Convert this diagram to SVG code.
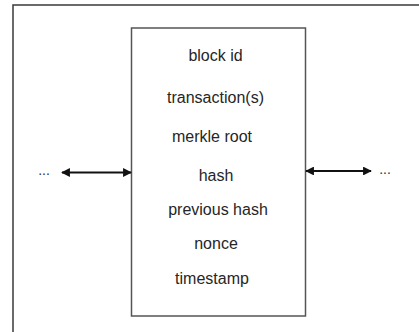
<svg xmlns="http://www.w3.org/2000/svg" width="419" height="332" viewBox="0 0 419 332">
  <style>
    .frame { fill: none; stroke: #3a3a3a; stroke-width: 1.5; }
    .box { fill: #ffffff; stroke: #555555; stroke-width: 1.5; }
    .label { font-family: "Liberation Sans", Arial, sans-serif; font-size: 16px; fill: #262626; text-anchor: middle; }
    .dots { font-family: "Liberation Sans", Arial, sans-serif; font-size: 14px; fill: #333333; text-anchor: middle; }
    .link { stroke: #111111; stroke-width: 2.2; fill: none; marker-start: url(#head); marker-end: url(#head); }
  </style>
  <defs>
    <marker id="head" viewBox="0 0 10 10" refX="9" refY="5" markerWidth="4" markerHeight="4" orient="auto-start-reverse" markerUnits="strokeWidth">
      <path d="M0,0 L10,5 L0,10 z" fill="#111111"/>
    </marker>
  </defs>

  <rect width="419" height="332" fill="#ffffff"/>

  <!-- page frame: top and left edges -->
  <path class="frame" d="M13,332 L13,5 L419,5"/>

  <g id="block">
    <rect class="box" x="131.5" y="28" width="174" height="288"/>
    <text class="label" x="215.5" y="61">block id</text>
    <text class="label" x="215.5" y="103">transaction(s)</text>
    <text class="label" x="212" y="142">merkle root</text>
    <text class="label" x="216" y="181">hash</text>
    <text class="label" x="218" y="215">previous hash</text>
    <text class="label" x="216" y="249">nonce</text>
    <text class="label" x="212" y="284">timestamp</text>
  </g>

  <g id="prev-chain">
    <text class="dots" x="44" y="175">...</text>
  </g>
  <g id="next-chain">
    <text class="dots" x="385" y="174">...</text>
  </g>

  <g id="connectors">
    <line class="link" x1="62" y1="172.5" x2="131" y2="172.5"/>
    <line class="link" x1="306" y1="171" x2="371" y2="171"/>
  </g>
</svg>
